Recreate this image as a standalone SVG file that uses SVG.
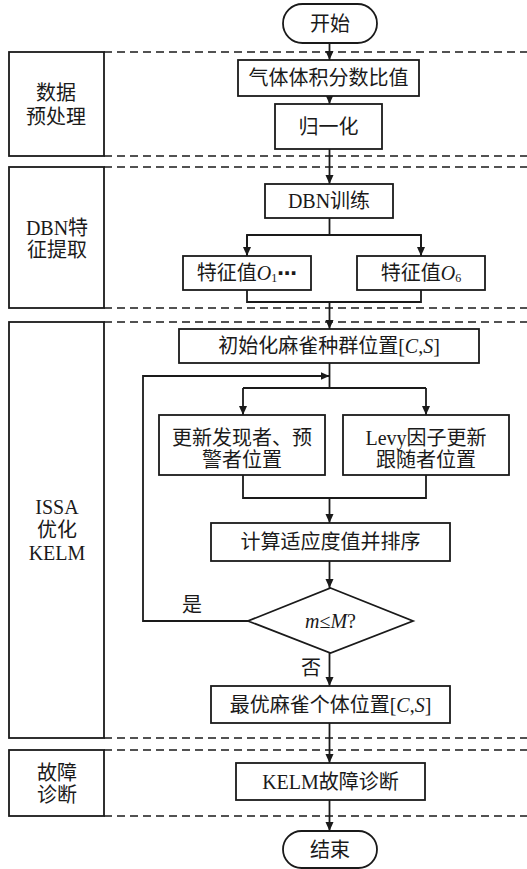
<svg xmlns="http://www.w3.org/2000/svg" width="527" height="869" viewBox="0 0 527 869">
<style>
text{font-family:"Liberation Serif","Noto Sans CJK SC",serif;font-size:20px;fill:#1a1a1a;text-anchor:middle;dominant-baseline:central}
.b{fill:#fff;stroke:#1a1a1a;stroke-width:1.8}
.d{stroke:#1a1a1a;stroke-width:1.6;stroke-dasharray:8 5;fill:none}
.c{stroke:#1a1a1a;stroke-width:1.8;fill:none}
.i{font-style:italic}
.s{font-size:12px}
</style>
<defs>
<marker id="ah" markerWidth="10" markerHeight="10" refX="9" refY="5" orient="auto" markerUnits="userSpaceOnUse">
<path d="M0,1 L9,5 L0,9 Z" fill="#1a1a1a"/>
</marker>
</defs>
<g id="lanes">
<rect class="b" x="9" y="52" width="95" height="104"/>
<text x="56" y="93">数据</text><text x="56" y="117">预处理</text>
<line class="d" x1="104" y1="52" x2="527" y2="52"/><line class="d" x1="104" y1="156" x2="527" y2="156"/>
<rect class="b" x="9" y="167" width="95" height="141"/>
<text x="57" y="228">DBN特</text><text x="57" y="250">征提取</text>
<line class="d" x1="104" y1="167" x2="527" y2="167"/><line class="d" x1="104" y1="308" x2="527" y2="308"/>
<rect class="b" x="9" y="322" width="95" height="416"/>
<text x="57" y="507">ISSA</text><text x="57" y="530">优化</text><text x="57" y="553">KELM</text>
<line class="d" x1="104" y1="322" x2="527" y2="322"/><line class="d" x1="104" y1="738" x2="527" y2="738"/>
<rect class="b" x="9" y="750" width="95" height="66"/>
<text x="57" y="773">故障</text><text x="57" y="795">诊断</text>
<line class="d" x1="104" y1="750" x2="527" y2="750"/><line class="d" x1="104" y1="816" x2="527" y2="816"/>
</g>
<g id="connectors">
<line class="c" x1="329.5" y1="43" x2="329.5" y2="60" marker-end="url(#ah)"/>
<line class="c" x1="329.5" y1="96" x2="329.5" y2="104" marker-end="url(#ah)"/>
<line class="c" x1="329.5" y1="149" x2="329.5" y2="184" marker-end="url(#ah)"/>
<line class="c" x1="329.5" y1="218" x2="329.5" y2="235"/>
<polyline class="c" points="247,256 247,235 421,235 421,256"/>
<line class="c" x1="247" y1="235" x2="247" y2="256" marker-end="url(#ah)"/>
<line class="c" x1="421" y1="235" x2="421" y2="256" marker-end="url(#ah)"/>
<polyline class="c" points="247,290 247,302 421,302 421,290"/>
<line class="c" x1="329.5" y1="302" x2="329.5" y2="329" marker-end="url(#ah)"/>
<line class="c" x1="329.5" y1="363" x2="329.5" y2="388"/>
<polyline class="c" points="243,388 426,388"/>
<line class="c" x1="243" y1="388" x2="243" y2="415" marker-end="url(#ah)"/>
<line class="c" x1="426" y1="388" x2="426" y2="415" marker-end="url(#ah)"/>
<polyline class="c" points="243,475 243,498 426,498 426,475"/>
<line class="c" x1="329.5" y1="498" x2="329.5" y2="523" marker-end="url(#ah)"/>
<line class="c" x1="329.5" y1="561" x2="329.5" y2="588" marker-end="url(#ah)"/>
<polyline class="c" points="248,621 143,621 143,376 329.5,376" marker-end="url(#ah)"/>
<line class="c" x1="329.5" y1="653" x2="329.5" y2="686" marker-end="url(#ah)"/>
<line class="c" x1="329.5" y1="723" x2="329.5" y2="763" marker-end="url(#ah)"/>
<line class="c" x1="329.5" y1="800" x2="329.5" y2="831" marker-end="url(#ah)"/>
<text x="192" y="605">是</text>
<text x="311" y="668">否</text>
</g>
<g id="start"><rect class="b" x="283" y="4" width="94" height="39" rx="19.5"/><text x="330" y="24">开始</text></g>
<g id="ratio"><rect class="b" x="238" y="60" width="181" height="36"/><text x="328.5" y="78">气体体积分数比值</text></g>
<g id="norm"><rect class="b" x="275" y="104" width="107" height="45"/><text x="328.5" y="127">归一化</text></g>
<g id="dbn"><rect class="b" x="265" y="184" width="128" height="34"/><text x="329" y="201">DBN训练</text></g>
<g id="f1"><rect class="b" x="183" y="256" width="128" height="34"/><text x="247" y="273">特征值<tspan class="i">O</tspan><tspan class="s" dy="5">1</tspan><tspan dy="-5" font-family="DejaVu Sans" font-weight="bold">⋯</tspan></text></g>
<g id="f6"><rect class="b" x="357" y="256" width="128" height="34"/><text x="421" y="273">特征值<tspan class="i">O</tspan><tspan class="s" dy="5">6</tspan></text></g>
<g id="init"><rect class="b" x="179" y="329" width="300" height="34"/><text x="329" y="346">初始化麻雀种群位置[<tspan class="i">C</tspan>,<tspan class="i">S</tspan>]</text></g>
<g id="upd1"><rect class="b" x="159" y="415" width="166" height="60"/><text x="242" y="438">更新发现者、预</text><text x="242" y="460">警者位置</text></g>
<g id="upd2"><rect class="b" x="343" y="415" width="166" height="60"/><text x="426" y="438">Levy因子更新</text><text x="426" y="460">跟随者位置</text></g>
<g id="fit"><rect class="b" x="211" y="523" width="239" height="38"/><text x="330.5" y="542">计算适应度值并排序</text></g>
<g id="cond"><polygon class="b" points="330.5,588 413,621 330.5,653 248,621"/><text x="330.5" y="621"><tspan class="i">m</tspan>≤<tspan class="i">M</tspan>?</text></g>
<g id="best"><rect class="b" x="211" y="686" width="239" height="37"/><text x="330.5" y="705">最优麻雀个体位置[<tspan class="i">C</tspan>,<tspan class="i">S</tspan>]</text></g>
<g id="kelm"><rect class="b" x="236" y="763" width="189" height="37"/><text x="330.5" y="782">KELM故障诊断</text></g>
<g id="end"><rect class="b" x="283" y="831" width="94" height="37" rx="18.5"/><text x="330" y="850">结束</text></g>
</svg>
